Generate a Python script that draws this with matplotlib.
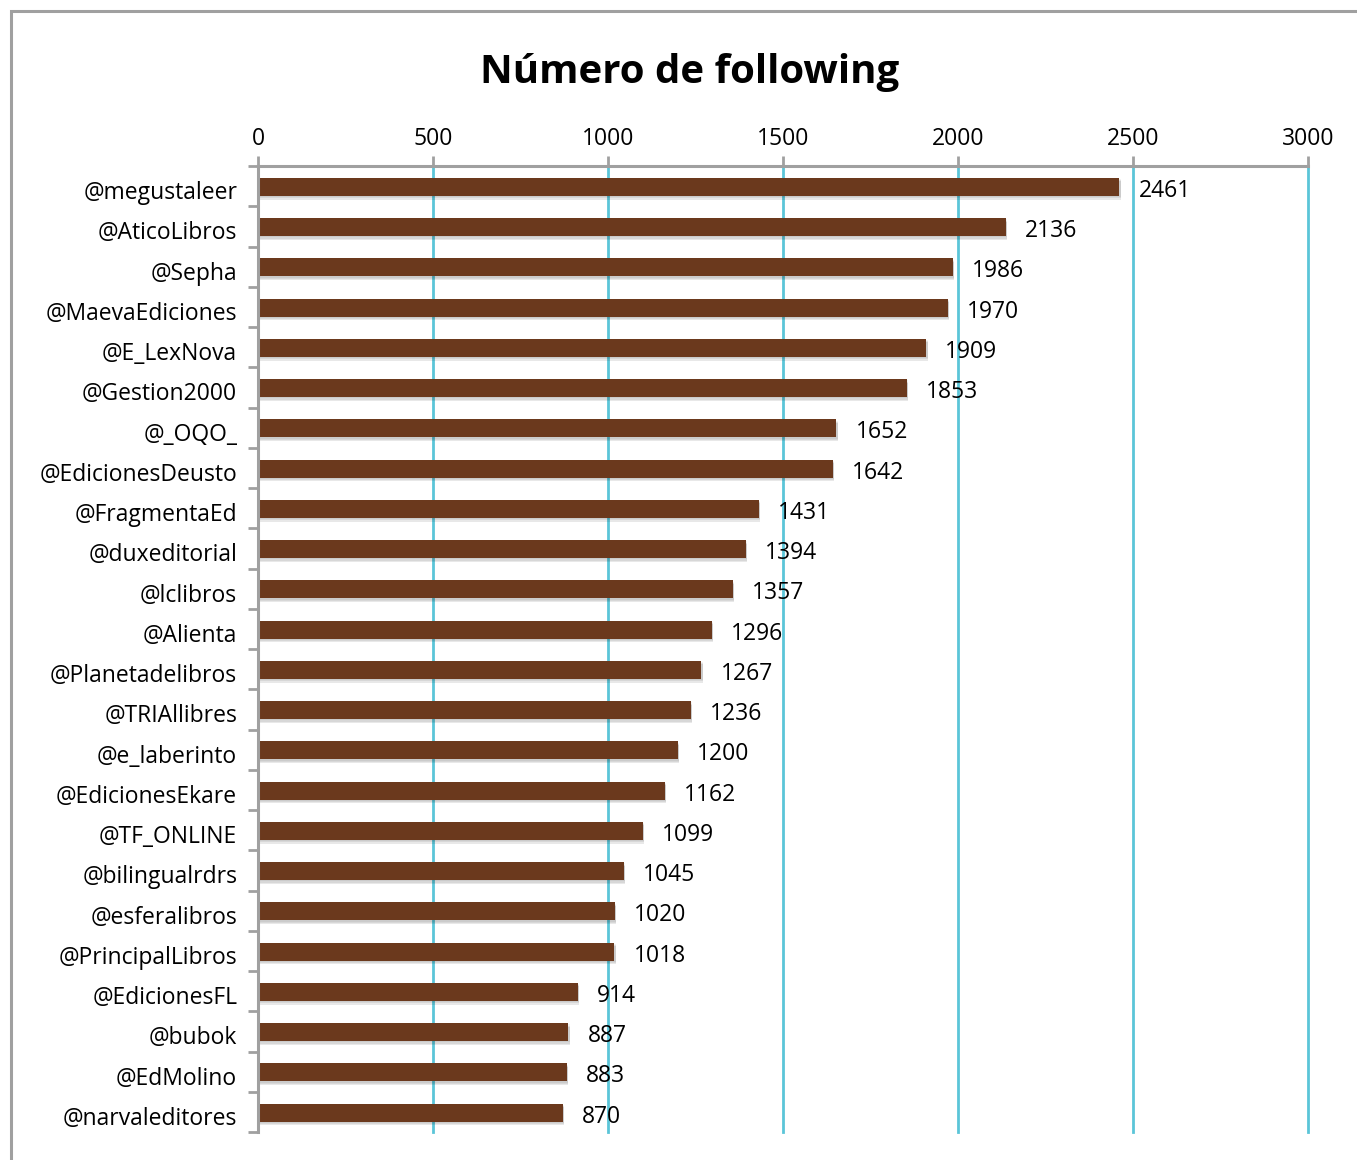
import numpy as np
import matplotlib
matplotlib.use("Agg")
import matplotlib.pyplot as plt
from matplotlib.patches import Rectangle

plt.rcParams['font.family'] = ['Open Sans', 'DejaVu Sans']

# data (top to bottom)
accounts = ['@megustaleer', '@AticoLibros', '@Sepha', '@MaevaEdiciones', '@E_LexNova',
            '@Gestion2000', '@_OQO_', '@EdicionesDeusto', '@FragmentaEd', '@duxeditorial',
            '@lclibros', '@Alienta', '@Planetadelibros', '@TRIAllibres', '@e_laberinto',
            '@EdicionesEkare', '@TF_ONLINE', '@bilingualrdrs', '@esferalibros',
            '@PrincipalLibros', '@EdicionesFL', '@bubok', '@EdMolino', '@narvaleditores']
following = [2461, 2136, 1986, 1970, 1909, 1853, 1652, 1642, 1431, 1394, 1357, 1296,
             1267, 1236, 1200, 1162, 1099, 1045, 1020, 1018, 914, 887, 883, 870]
xticks = [0, 500, 1000, 1500, 2000, 2500, 3000]

bar_color = '#6B391D'
grid_color = '#5BC5D8'
spine_color = '#A0A0A0'

W, H = 1357, 1160
fig = plt.figure(figsize=(W / 100, H / 100), dpi=100)

# outer chart frame (runs off the right and bottom edges)
fig.patches.append(Rectangle((11 / W, -0.1), 2, 1 - 11 / H + 0.1, transform=fig.transFigure,
                             fill=False, edgecolor=spine_color, linewidth=2.2))

ax = fig.add_axes([258 / W, 1 - 1132 / H, 1050 / W, (1132 - 166) / H])

n = len(accounts)
y = np.arange(n)

# soft shadow under bars
for k, a in enumerate([0.05, 0.07, 0.09]):
    off = 0.03 + 0.03 * k
    ax.barh(y + 0.02 + off, following, height=0.45, left=4,
            color='black', alpha=a, zorder=2, linewidth=0)
ax.barh(y + 0.02, following, height=0.45, color=bar_color, zorder=3, linewidth=0)

for yi, v in zip(y, following):
    ax.text(v + 55, yi + 0.12, str(v), va='center', ha='left', fontsize=16.5, color='black', zorder=4)

ax.set_ylim(n - 0.5, -0.5)
ax.set_xlim(0, 3000)
ax.set_yticks(y + 0.1)
ax.set_yticklabels(accounts, fontsize=16.5)
ax.set_yticks(np.arange(-0.5, n, 1), minor=True)
ax.tick_params(axis='y', which='major', length=0, pad=15)
ax.tick_params(axis='y', which='minor', length=7, width=2, color=spine_color, direction='out')

ax.xaxis.tick_top()
ax.set_xticks(xticks)
ax.set_xticklabels([str(t) for t in xticks], fontsize=16.5)
ax.tick_params(axis='x', length=7, width=2, color=spine_color, pad=4)
for t in xticks[1:]:
    ax.axvline(t, color=grid_color, linewidth=2, zorder=1, clip_on=False)

for s in ['right', 'bottom']:
    ax.spines[s].set_visible(False)
for s in ['top', 'left']:
    ax.spines[s].set_color(spine_color)
    ax.spines[s].set_linewidth(2.2)
    ax.spines[s].set_zorder(5)

fig.text(690 / W, 1 - 72 / H, 'Número de following', ha='center', va='center',
         fontsize=29, fontweight='bold')

fig.savefig('out.png', dpi=100)
